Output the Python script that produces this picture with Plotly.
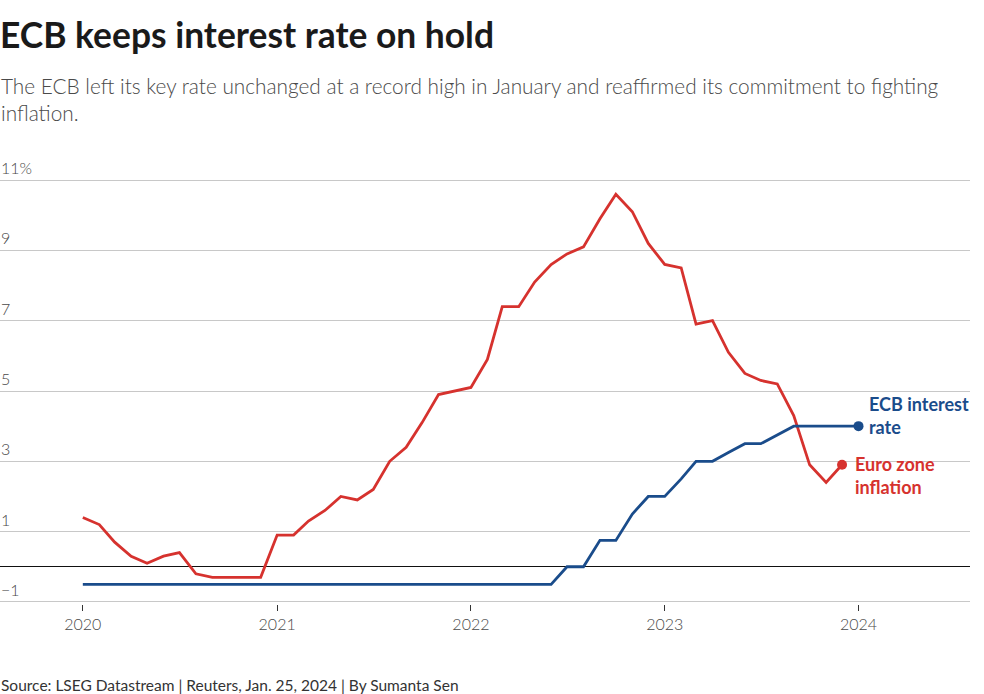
import plotly.graph_objects as go
import pandas as pd

# Monthly data
infl_months = pd.date_range("2020-01-01", "2023-12-01", freq="MS")
inflation = [1.4, 1.2, 0.7, 0.3, 0.1, 0.3, 0.4, -0.2, -0.3, -0.3, -0.3, -0.3,
             0.9, 0.9, 1.3, 1.6, 2.0, 1.9, 2.2, 3.0, 3.4, 4.1, 4.9, 5.0,
             5.1, 5.9, 7.4, 7.4, 8.1, 8.6, 8.9, 9.1, 9.9, 10.6, 10.1, 9.2,
             8.6, 8.5, 6.9, 7.0, 6.1, 5.5, 5.3, 5.2, 4.3, 2.9, 2.4, 2.9]

rate_months = pd.date_range("2020-01-01", "2024-01-01", freq="MS")
ecb_rate = [-0.5] * 30 + [0.0, 0.0, 0.75, 0.75, 1.5, 2.0,
                          2.0, 2.5, 3.0, 3.0, 3.25, 3.5, 3.5, 3.75, 4.0, 4.0, 4.0, 4.0,
                          4.0]

y_ticks = [-1, 1, 3, 5, 7, 9, 11]
y_tick_labels = ["−1", "1", "3", "5", "7", "9", "11%"]
x_ticks = ["2020-01-01", "2021-01-01", "2022-01-01", "2023-01-01", "2024-01-01"]
x_tick_labels = ["2020", "2021", "2022", "2023", "2024"]

RED = "#d6322e"
BLUE = "#1a4c8b"
FONT = "Lato"

fig = go.Figure()
fig.add_trace(go.Scatter(x=infl_months, y=inflation, mode="lines",
                         line=dict(color=RED, width=2.8), hoverinfo="skip"))
fig.add_trace(go.Scatter(x=rate_months, y=ecb_rate, mode="lines",
                         line=dict(color=BLUE, width=2.8), hoverinfo="skip"))
fig.add_trace(go.Scatter(x=[infl_months[-1]], y=[inflation[-1]], mode="markers",
                         marker=dict(color=RED, size=10), hoverinfo="skip"))
fig.add_trace(go.Scatter(x=[rate_months[-1]], y=[ecb_rate[-1]], mode="markers",
                         marker=dict(color=BLUE, size=10), hoverinfo="skip"))

# y tick labels sit above their gridlines at the left edge
for v, t in zip(y_ticks, y_tick_labels):
    fig.add_annotation(x=0, y=v, xref="paper", yref="y", text=t, showarrow=False,
                       xanchor="left", yanchor="bottom", yshift=1, xshift=-1,
                       font=dict(family=FONT, size=16, color="#4a4a4a", weight=300))

fig.add_annotation(x=rate_months[-1], y=ecb_rate[-1], xref="x", yref="y",
                   text="<b>ECB interest<br>rate</b>", showarrow=False,
                   xanchor="left", yanchor="middle", align="left", xshift=8, yshift=11,
                   font=dict(family=FONT, size=18, color=BLUE))
fig.add_annotation(x=infl_months[-1], y=inflation[-1], xref="x", yref="y",
                   text="<b>Euro zone<br>inflation</b>", showarrow=False,
                   xanchor="left", yanchor="middle", align="left", xshift=11, yshift=-11,
                   font=dict(family=FONT, size=18, color=RED))

fig.add_annotation(x=0, y=1, xref="paper", yref="paper", yanchor="middle", xanchor="left",
                   text="<b>ECB keeps interest rate on hold</b>", showarrow=False,
                   yshift=144, xshift=-2, font=dict(family=FONT, size=35.4, color="#1a1a1a"))
fig.add_annotation(x=0, y=1, xref="paper", yref="paper", yanchor="middle", xanchor="left",
                   align="left",
                   text="The ECB left its key rate unchanged at a record high in January and reaffirmed its commitment to fighting<br>inflation.",
                   showarrow=False, yshift=79, xshift=-1,
                   font=dict(family=FONT, size=20.8, color="#4a4a4a", weight=300))
fig.add_annotation(x=0, y=0, xref="paper", yref="paper", yanchor="middle", xanchor="left",
                   text="Source: LSEG Datastream | Reuters, Jan. 25, 2024 | By Sumanta Sen",
                   showarrow=False, yshift=-81, xshift=-1,
                   font=dict(family=FONT, size=15.5, color="#333333"))

fig.update_layout(
    width=984, height=694,
    margin=dict(l=0, r=14, t=178, b=90, autoexpand=False),
    paper_bgcolor="white", plot_bgcolor="white",
    showlegend=False,
    font=dict(family=FONT, color="#555555"),
    xaxis=dict(
        type="date",
        range=["2019-07-29", "2024-07-29"],
        tickvals=x_ticks, ticktext=x_tick_labels,
        showgrid=False, zeroline=False, showline=False,
        ticks="outside", ticklen=6, tickcolor="#333333", tickwidth=1,
        tickfont=dict(family=FONT, size=16, color="#4a4a4a", weight=300),
        automargin=False,
    ),
    yaxis=dict(
        range=[-1.06, 11.06],
        tickvals=y_ticks, showticklabels=False,
        showgrid=True, gridcolor="#c8c8c8", gridwidth=1.2,
        zeroline=True, zerolinecolor="#111111", zerolinewidth=1.2,
        showline=False, automargin=False,
    ),
)

fig.write_html("out.html",
               config={"displayModeBar": False},
               post_script="document.body.style.margin='0';document.body.style.padding='0';document.body.style.overflow='hidden';")
